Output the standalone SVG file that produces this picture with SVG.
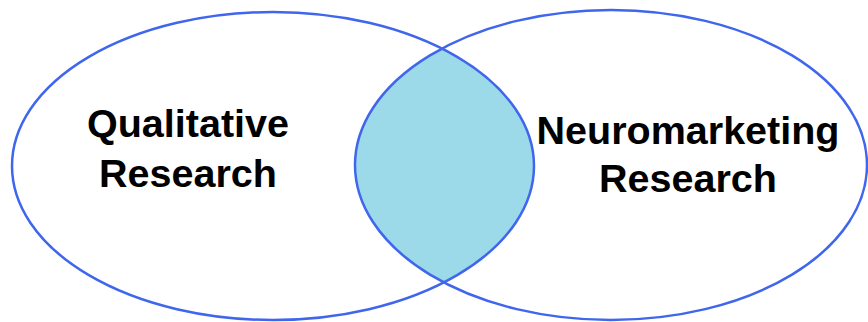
<svg xmlns="http://www.w3.org/2000/svg" width="868" height="322" viewBox="0 0 868 322">
  <style>
    .ring { fill: none; stroke: #3F66EC; stroke-width: 2.5; }
    .lbl { font-family: "Liberation Sans", Arial, sans-serif; font-weight: bold; font-size: 39.5px; fill: #000; text-anchor: middle; }
  </style>
  <defs>
    <clipPath id="clipLeft">
      <ellipse cx="273" cy="166" rx="261" ry="154"/>
    </clipPath>
  </defs>
  <rect width="868" height="322" fill="#fff"/>
  <g id="overlap">
    <ellipse cx="611" cy="165" rx="256" ry="155" fill="#9CD9E9" clip-path="url(#clipLeft)"/>
  </g>
  <g id="qualitative">
    <ellipse class="ring" cx="273" cy="166" rx="261" ry="154"/>
    <text class="lbl" x="188" y="137">Qualitative</text>
    <text class="lbl" x="188" y="187">Research</text>
  </g>
  <g id="neuromarketing">
    <ellipse class="ring" cx="611" cy="165" rx="256" ry="155"/>
    <text class="lbl" x="688" y="144">Neuromarketing</text>
    <text class="lbl" x="688" y="192">Research</text>
  </g>
  <g id="connectors"/>
</svg>
